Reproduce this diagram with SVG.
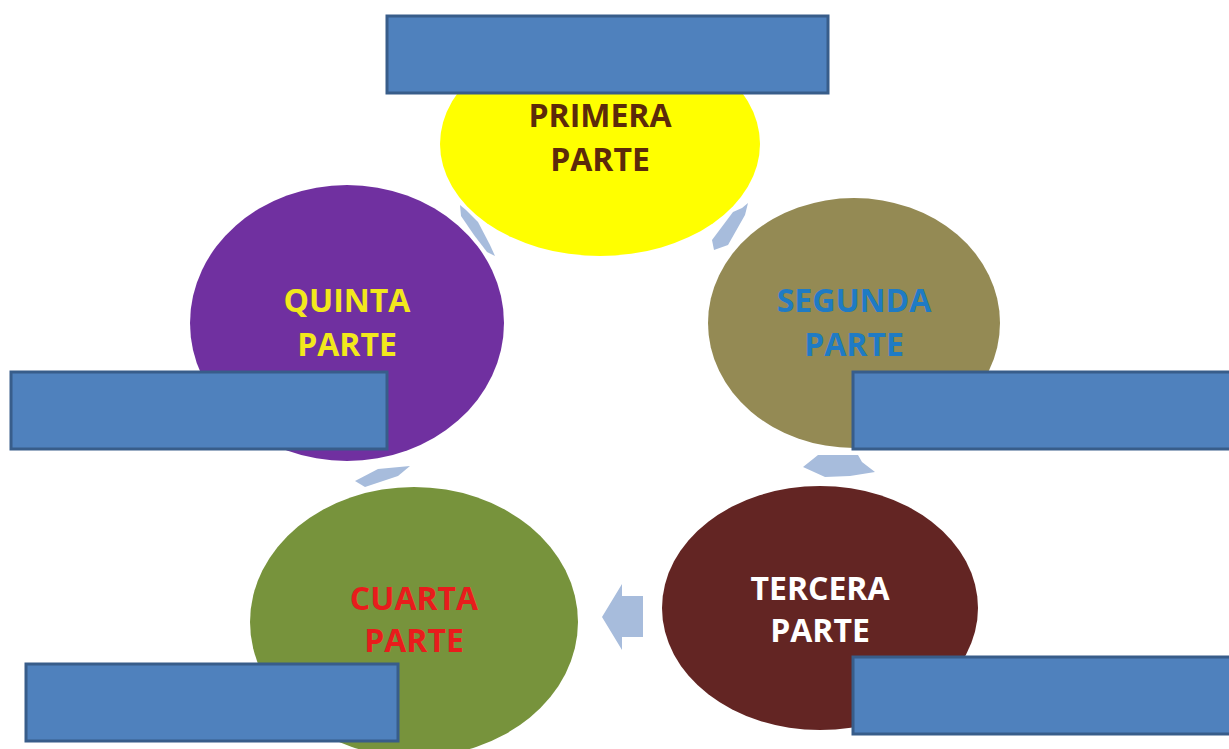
<svg xmlns="http://www.w3.org/2000/svg" width="1229" height="749" viewBox="0 0 1229 749">
<style>
.lbl{font-family:"Open Sans","Liberation Sans",sans-serif;font-weight:bold;font-size:32px;text-anchor:middle}
.box{fill:#4f81bd;stroke:#385d8a;stroke-width:3}
.arr{fill:#a7bcdc}
</style>
<rect width="1229" height="749" fill="#ffffff"/>
<g id="connectors">
<polygon class="arr" points="733,212 742,208 748,203 745,215 728,245 714,250 712,240"/>
<polygon class="arr" points="818,455 858,455 862,462 875,472 850,476 825,477 803,467"/>
<polygon class="arr" points="602,617 622,584 622,596 643,596 643,637 622,637 622,650"/>
<polygon class="arr" points="355,481 378,469 410,466 398,476 365,487"/>
<polygon class="arr" points="460,205 466,210 478,222 490,245 495,256 487,252 474,235 461,216"/>
</g>
<g id="primera">
<ellipse cx="600" cy="144" rx="160" ry="112" fill="#ffff00"/>
<text class="lbl" x="600" y="127" fill="#5c2a0a">PRIMERA</text>
<text class="lbl" x="600" y="171" fill="#5c2a0a">PARTE</text>
</g>
<g id="segunda">
<ellipse cx="854" cy="323" rx="146" ry="125" fill="#948a54"/>
<text class="lbl" x="854" y="312" fill="#1f7bc4">SEGUNDA</text>
<text class="lbl" x="854" y="356" fill="#1f7bc4">PARTE</text>
</g>
<g id="tercera">
<ellipse cx="820" cy="608" rx="158" ry="122" fill="#632523"/>
<text class="lbl" x="820" y="600" fill="#ffffff">TERCERA</text>
<text class="lbl" x="820" y="642" fill="#ffffff">PARTE</text>
</g>
<g id="cuarta">
<ellipse cx="414" cy="622" rx="164" ry="135" fill="#77933c"/>
<text class="lbl" x="414" y="610" fill="#e81c1c">CUARTA</text>
<text class="lbl" x="414" y="652" fill="#e81c1c">PARTE</text>
</g>
<g id="quinta">
<ellipse cx="347" cy="323" rx="157" ry="138" fill="#7030a0"/>
<text class="lbl" x="347" y="312" fill="#f2e81c">QUINTA</text>
<text class="lbl" x="347" y="356" fill="#f2e81c">PARTE</text>
</g>
<g id="box-top"><rect class="box" x="387" y="16" width="441" height="77"/></g>
<g id="box-left-mid"><rect class="box" x="11" y="372" width="376" height="77"/></g>
<g id="box-right-mid"><rect class="box" x="853" y="372" width="380" height="77"/></g>
<g id="box-right-bottom"><rect class="box" x="853" y="657" width="380" height="77"/></g>
<g id="box-left-bottom"><rect class="box" x="26" y="664" width="372" height="77"/></g>
</svg>
